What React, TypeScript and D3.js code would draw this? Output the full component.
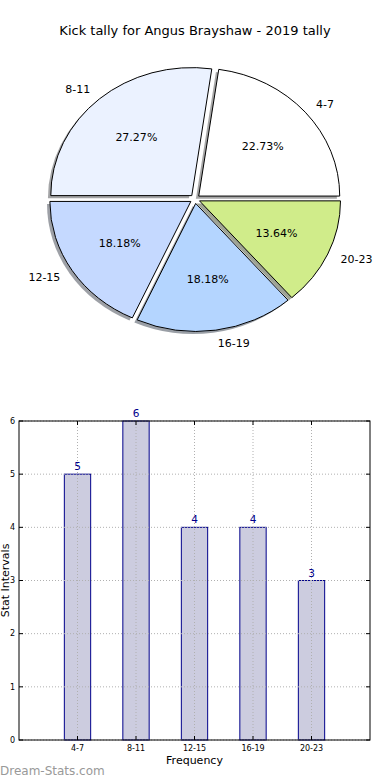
import * as d3 from "d3";

const title = "Kick tally for Angus Brayshaw - 2019 tally";
const categories = ["4-7", "8-11", "12-15", "16-19", "20-23"];
const counts = [5, 6, 4, 4, 3];
const sliceColors = ["#ffffff", "#ebf2ff", "#c5d9ff", "#b4d5ff", "#d0ec8a"];
const yTicks = [0, 1, 2, 3, 4, 5, 6];

const W = 390;
const H = 780;

// pie geometry (matplotlib-ish: slightly squashed ellipse, all slices exploded)
const cx = 195;
const cy = 199;
const rx = 141;
const ry = 128;
const explode = 0.035;

// bar axes box
const left = 19;
const right = 370;
const top = 421;
const bottom = 740;

export default function App() {
  const total = d3.sum(counts);
  const pie = d3
    .pie<number>()
    .sort(null)
    .value((d) => d)
    .startAngle(Math.PI / 2)
    .endAngle(Math.PI / 2 - 2 * Math.PI);
  const arcs = pie(counts);
  const arc = d3.arc<d3.PieArcDatum<number>>().innerRadius(0).outerRadius(1);

  const slices = arcs.map((a, i) => {
    const m = (a.startAngle + a.endAngle) / 2;
    const ox = cx + rx * explode * Math.sin(m);
    const oy = cy - ry * explode * Math.cos(m);
    const c = d3.rgb(sliceColors[i]);
    return {
      a,
      i,
      ox,
      oy,
      sin: Math.sin(m),
      cos: Math.cos(m),
      shadow: d3.rgb(c.r * 0.3, c.g * 0.3, c.b * 0.3).toString(),
    };
  });

  const x = d3.scaleLinear().domain([-1, categories.length]).range([left, right]);
  const y = d3.scaleLinear().domain([0, 6]).range([bottom, top]);
  const barW = x(0.45) - x(0);

  return (
    <svg
      width={W}
      height={H}
      style={{ position: "absolute", left: 0, top: 0, background: "#fff" }}
      fontFamily="DejaVu Sans, sans-serif"
    >
      <text x={W / 2} y={35} textAnchor="middle" fontSize={13}>
        {title}
      </text>

      {/* shadows first, under every wedge */}
      {slices.map((s) => (
        <path
          key={"sh" + s.i}
          d={arc(s.a) || ""}
          transform={`translate(${s.ox - rx * 0.02},${s.oy + ry * 0.02}) scale(${rx},${ry})`}
          fill={s.shadow}
          fillOpacity={0.5}
        />
      ))}
      {slices.map((s) => (
        <path
          key={"w" + s.i}
          d={arc(s.a) || ""}
          transform={`translate(${s.ox},${s.oy}) scale(${rx},${ry})`}
          fill={sliceColors[s.i]}
          stroke="#000"
          strokeWidth={1}
          vectorEffect="non-scaling-stroke"
        />
      ))}
      {slices.map((s) => (
        <g key={"l" + s.i} fontSize={11}>
          <text
            x={s.ox + 1.1 * rx * s.sin}
            y={s.oy - 1.1 * ry * s.cos}
            dy="0.35em"
            textAnchor={s.sin > 0 ? "start" : "end"}
          >
            {categories[s.i]}
          </text>
          <text
            x={s.ox + 0.6 * rx * s.sin}
            y={s.oy - 0.6 * ry * s.cos}
            dy="0.35em"
            textAnchor="middle"
          >
            {((counts[s.i] / total) * 100).toFixed(2)}%
          </text>
        </g>
      ))}

      {/* bar chart */}
      {counts.map((v, i) => (
        <rect
          key={"b" + i}
          x={x(i) - barW / 2}
          y={y(v)}
          width={barW}
          height={y(0) - y(v)}
          fill="#ccccdf"
          stroke="#00008b"
          strokeWidth={1}
        />
      ))}
      <g stroke="#b0b0b0" strokeWidth={1} strokeDasharray="1,2">
        {yTicks.map((t) => (
          <line key={"gy" + t} x1={left} x2={right} y1={y(t)} y2={y(t)} />
        ))}
        {categories.map((c, i) => (
          <line key={"gx" + c} x1={x(i)} x2={x(i)} y1={top} y2={bottom} />
        ))}
      </g>
      <g stroke="#000" strokeWidth={1}>
        {yTicks.map((t) => (
          <g key={"ty" + t}>
            <line x1={left} x2={left + 4} y1={y(t)} y2={y(t)} />
            <line x1={right - 4} x2={right} y1={y(t)} y2={y(t)} />
          </g>
        ))}
        {categories.map((c, i) => (
          <g key={"tx" + c}>
            <line x1={x(i)} x2={x(i)} y1={bottom} y2={bottom - 4} />
            <line x1={x(i)} x2={x(i)} y1={top} y2={top + 4} />
          </g>
        ))}
      </g>
      <rect x={left} y={top} width={right - left} height={bottom - top} fill="none" stroke="#000" strokeWidth={1} />

      {yTicks.map((t) => (
        <text key={"yl" + t} x={left - 4} y={y(t)} dy="0.35em" textAnchor="end" fontSize={8}>
          {t}
        </text>
      ))}
      {categories.map((c, i) => (
        <text key={"xl" + c} x={x(i)} y={bottom + 11} textAnchor="middle" fontSize={8}>
          {c}
        </text>
      ))}
      {counts.map((v, i) => (
        <text key={"v" + i} x={x(i)} y={y(v) - 4} textAnchor="middle" fontSize={10.5} fill="#00008b">
          {v}
        </text>
      ))}
      <text x={(left + right) / 2} y={764} textAnchor="middle" fontSize={11}>
        Frequency
      </text>
      <text
        transform={`translate(9,${(top + bottom) / 2}) rotate(-90)`}
        textAnchor="middle"
        fontSize={11}
      >
        Stat Intervals
      </text>
      <text x={0} y={775} fontSize={12} fill="#999999">
        Dream-Stats.com
      </text>
    </svg>
  );
}
